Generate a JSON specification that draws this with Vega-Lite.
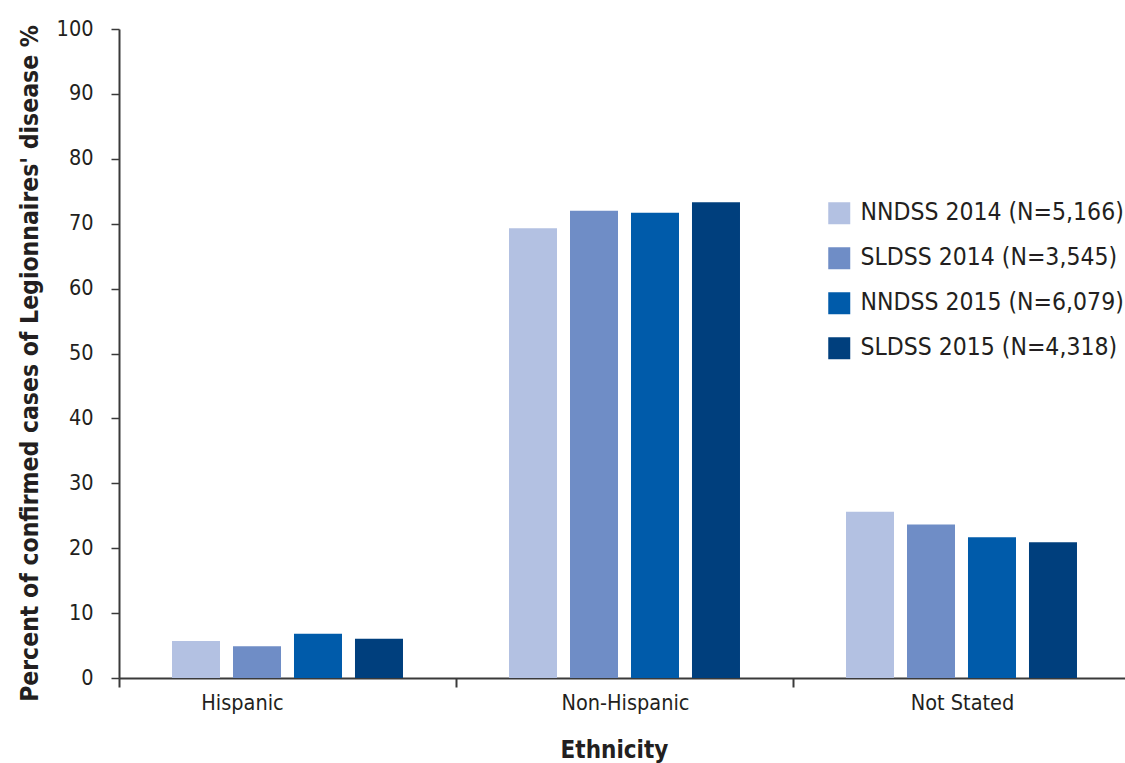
{
  "$schema": "https://vega.github.io/schema/vega-lite/v6.json",
  "autosize": {"type": "none"},
  "padding": {"left": 119, "top": 29, "right": 0, "bottom": 85},
  "width": 1011,
  "height": 649,
  "background": "white",
  "config": {
    "view": {"stroke": null},
    "font": "DejaVu Sans Condensed, Liberation Sans Narrow, sans-serif"
  },
  "data": {
    "values": [
      {"ethnicity": "Hispanic", "system": "NNDSS 2014 (N=5,166)", "pct": 5.7},
      {"ethnicity": "Hispanic", "system": "SLDSS 2014 (N=3,545)", "pct": 4.9},
      {"ethnicity": "Hispanic", "system": "NNDSS 2015 (N=6,079)", "pct": 6.8},
      {"ethnicity": "Hispanic", "system": "SLDSS 2015 (N=4,318)", "pct": 6.05},
      {"ethnicity": "Non-Hispanic", "system": "NNDSS 2014 (N=5,166)", "pct": 69.3},
      {"ethnicity": "Non-Hispanic", "system": "SLDSS 2014 (N=3,545)", "pct": 72.0},
      {"ethnicity": "Non-Hispanic", "system": "NNDSS 2015 (N=6,079)", "pct": 71.7},
      {"ethnicity": "Non-Hispanic", "system": "SLDSS 2015 (N=4,318)", "pct": 73.3},
      {"ethnicity": "Not Stated", "system": "NNDSS 2014 (N=5,166)", "pct": 25.6},
      {"ethnicity": "Not Stated", "system": "SLDSS 2014 (N=3,545)", "pct": 23.65},
      {"ethnicity": "Not Stated", "system": "NNDSS 2015 (N=6,079)", "pct": 21.7},
      {"ethnicity": "Not Stated", "system": "SLDSS 2015 (N=4,318)", "pct": 20.9}
    ]
  },
  "layer": [
    {
      "mark": {"type": "bar"},
      "encoding": {
        "x": {
          "field": "ethnicity",
          "type": "nominal",
          "sort": ["Hispanic", "Non-Hispanic", "Not Stated"],
          "scale": {"paddingInner": 0, "paddingOuter": 0},
          "axis": {
            "orient": "bottom",
            "title": "Ethnicity",
            "titleFontSize": 24,
            "titleFontWeight": 600,
            "titleColor": "#231F20",
            "titleBaseline": "middle",
            "titleX": 495,
            "titleY": 72,
            "labelAngle": 0,
            "labelFontSize": 21.5,
            "labelColor": "#231F20",
            "labelPadding": 14,
            "labelOffset": {"condition": {"test": "datum.value === 'Hispanic'", "value": -45}, "value": 1},
            "ticks": false,
            "domainColor": "#3a3a3a",
            "domainWidth": 2
          }
        },
        "xOffset": {
          "field": "system",
          "type": "nominal",
          "sort": ["NNDSS 2014 (N=5,166)", "SLDSS 2014 (N=3,545)", "NNDSS 2015 (N=6,079)", "SLDSS 2015 (N=4,318)"],
          "scale": {"paddingInner": 0.213, "paddingOuter": 0.869}
        },
        "y": {
          "field": "pct",
          "type": "quantitative",
          "scale": {"domain": [0, 100], "nice": false},
          "axis": {
            "title": "Percent of confirmed cases of Legionnaires' disease %",
            "titleFontSize": 24.5,
            "titleFontWeight": "bold",
            "titleColor": "#231F20",
            "titleAngle": -90,
            "titleBaseline": "middle",
            "titleX": -89,
            "titleY": 334,
            "values": [0, 10, 20, 30, 40, 50, 60, 70, 80, 90, 100],
            "grid": false,
            "labelFontSize": 21.5,
            "labelColor": "#231F20",
            "labelPadding": 18,
            "tickSize": 8,
            "tickColor": "#3a3a3a",
            "tickWidth": 1.5,
            "domainColor": "#3a3a3a",
            "domainWidth": 2
          }
        },
        "color": {
          "field": "system",
          "type": "nominal",
          "sort": ["NNDSS 2014 (N=5,166)", "SLDSS 2014 (N=3,545)", "NNDSS 2015 (N=6,079)", "SLDSS 2015 (N=4,318)"],
          "scale": {"range": ["#B3C1E2", "#6F8DC6", "#005BAA", "#003F7D"]},
          "legend": {
            "title": null,
            "orient": "none",
            "legendX": 708,
            "legendY": 172,
            "symbolType": "square",
            "symbolSize": 484,
            "symbolStrokeWidth": 0,
            "labelFontSize": 24.5,
            "labelColor": "#231F20",
            "labelOffset": 9,
            "rowPadding": 20,
            "labelLimit": 400
          }
        }
      }
    },
    {
      "mark": {"type": "rule", "opacity": 0},
      "encoding": {
        "x": {
          "field": "ethnicity",
          "type": "nominal",
          "sort": ["Hispanic", "Non-Hispanic", "Not Stated"],
          "axis": {
            "orient": "bottom",
            "title": null,
            "labels": false,
            "domain": false,
            "bandPosition": 0,
            "ticks": true,
            "tickSize": 9,
            "tickColor": "#3a3a3a",
            "tickWidth": 2
          }
        }
      }
    }
  ],
  "resolve": {"axis": {"x": "independent"}}
}
